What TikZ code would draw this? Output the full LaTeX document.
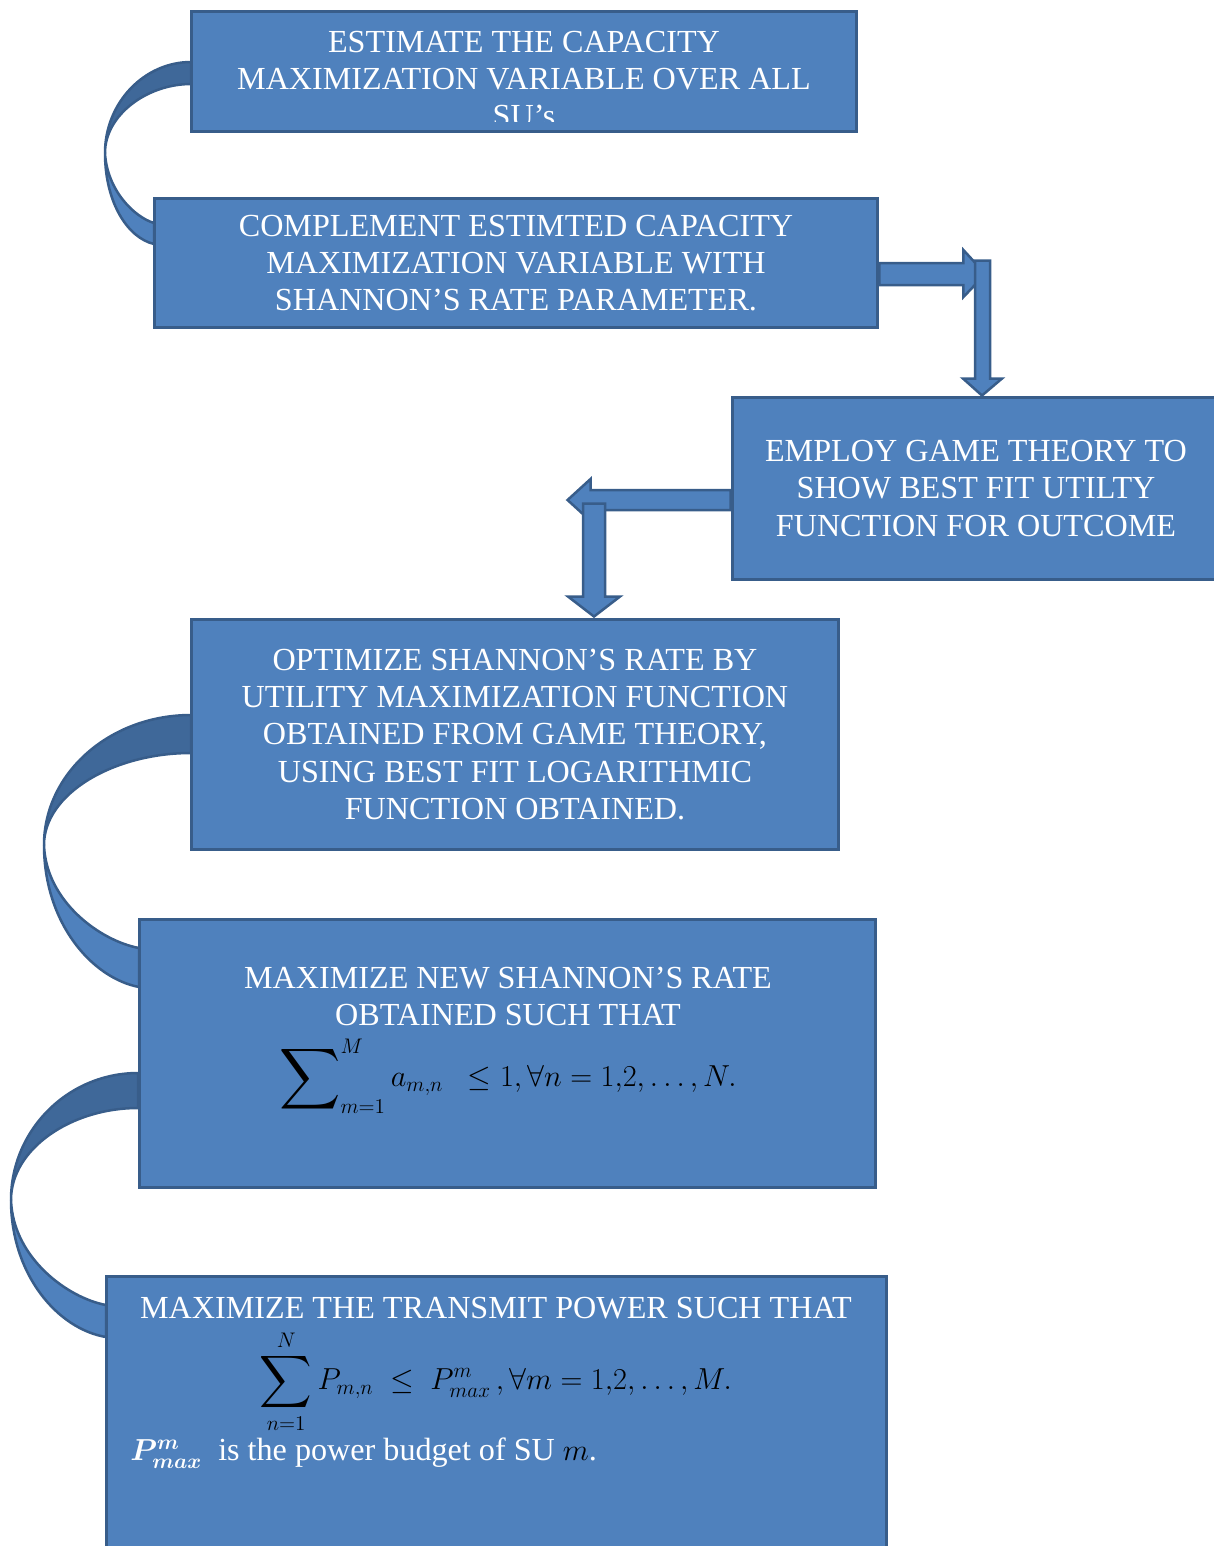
\documentclass[tikz,border=0pt]{standalone}
\usepackage{fontspec}
\setmainfont{Liberation Serif}
\usepackage{amsmath}
\usepackage{bm}
\usepackage{tikz}
\usetikzlibrary{calc}
\definecolor{boxblue}{HTML}{4F81BD}
\definecolor{edgeblue}{HTML}{385D8A}
\definecolor{backblue}{HTML}{3F6899}
\newcommand\bigsum[1]{\mathop{\vcenter{\hbox{\scalebox{#1}{$\displaystyle\sum$}}}}}

\begin{document}
\begin{tikzpicture}[x=0.02cm,y=-0.02cm,
  font=\fontsize{18.3}{21.2}\selectfont,
  box/.style={draw=edgeblue, fill=boxblue, line width=0.06cm, inner sep=0pt, align=center, text=white},
  txt/.style={inner sep=0pt, align=center, text=white},
  bandback/.style={draw=edgeblue, fill=backblue, line width=0.05cm, line join=round},
  bandfront/.style={draw=edgeblue, fill=boxblue, line width=0.05cm, line join=round},
  blockarr/.style={draw=edgeblue, fill=boxblue, line width=0.05cm, line join=miter}]
\useasboundingbox (0,0) rectangle (1214,1546);
\clip (0,0) rectangle (1214,1546);
% ----- curved bands behind the boxes
\draw[bandback] (191,62) .. controls (144,62) and (105,103) .. (105,153) .. controls (105,115) and (147,84) .. (191,84) -- cycle;
\draw[bandfront] (105,153) .. controls (105,203) and (128,238) .. (154,244) -- (154,223) .. controls (134,217) and (107,190) .. (105,153) -- cycle;
\draw[bandback] (191,715) .. controls (110,715) and (44,773) .. (44,845) .. controls (44,794) and (113,753) .. (191,753) -- cycle;
\draw[bandfront] (44,845) .. controls (44,923) and (92,978) .. (139,987) -- (139,948) .. controls (101,941) and (46,902) .. (44,845) -- cycle;
\draw[bandback] (138,1073) .. controls (68,1073) and (11,1130) .. (11,1200) .. controls (11,1149) and (71,1108) .. (138,1108) -- cycle;
\draw[bandfront] (11,1200) .. controls (11,1275) and (58,1329) .. (106,1337) -- (106,1305) .. controls (68,1298) and (13,1258) .. (11,1200) -- cycle;
% ----- boxes
\node[box, minimum width=13.32cm, minimum height=2.42cm,
  path picture={\clip ([yshift=0.2cm]path picture bounding box.south west) rectangle (path picture bounding box.north east);
    \node[txt] at ([yshift=-0.15cm]path picture bounding box.center) {ESTIMATE THE CAPACITY\\MAXIMIZATION VARIABLE OVER ALL\\SU’s};}] (b1) at (524,71.5) {};
\node[box, minimum width=14.48cm, minimum height=2.6cm] (b2) at (516,263) {COMPLEMENT ESTIMTED CAPACITY\\MAXIMIZATION VARIABLE WITH\\SHANNON’S RATE PARAMETER.};
\node[box, minimum width=9.76cm, minimum height=3.66cm] (b3) at (976,488.5) {EMPLOY GAME THEORY TO\\SHOW BEST FIT UTILTY\\FUNCTION FOR OUTCOME};
\node[box, minimum width=12.96cm, minimum height=4.62cm] (b4) at (515,734.5) {OPTIMIZE SHANNON’S RATE BY\\UTILITY MAXIMIZATION FUNCTION\\OBTAINED FROM GAME THEORY,\\USING BEST FIT LOGARITHMIC\\FUNCTION OBTAINED.};
\node[box, minimum width=14.74cm, minimum height=5.38cm] (b5) at (507.5,1053.5) {};
\node[box, minimum width=15.62cm, minimum height=5.88cm] (b6) at (496.5,1423) {};
% ----- box texts with formulas
\node[txt, anchor=north] (t5) at (508,967) {MAXIMIZE NEW SHANNON’S RATE\\OBTAINED SUCH THAT\\[6pt]
  \color{black}$\bigsum{1.4}\nolimits_{m=1}^{M} a_{m,n}\ \ \le 1, \forall n = 1{,}2, \ldots , N.$};
\node[txt, anchor=north] (t6) at (496,1297) {MAXIMIZE THE TRANSMIT POWER SUCH THAT\\[5pt]
  \color{black}$\displaystyle\bigsum{1.2}\limits_{n=1}^{N} P_{m,n}\ \le\ P^{m}_{max}\,, \forall m = 1{,}2, \ldots , M.$};
\node[txt, anchor=west] (t6b) at (130,1453) {$\bm{P^{m}_{max}}$\ \ is the power budget of SU {\color{black}$m$}.};
% ----- block arrows
\draw[blockarr] (b2.east) -- ++(84,0) -- ++(0,-13) -- ++(22,24) -- ++(-22,23) -- ++(0,-12) -- ++(-84,0) -- cycle;
\draw[blockarr] ($(b3.north)+(6,0)$) -- ++(-19,-17) -- ++(12,0) -- ++(0,-118) -- ++(15,0) -- ++(0,118) -- ++(12,0) -- cycle;
\draw[blockarr] ($(b3.west)+(0,1.5)$) -- ++(-140,0) -- ++(0,-11) -- ++(-23,21) -- ++(23,21) -- ++(0,-11) -- ++(140,0) -- cycle;
\draw[blockarr] ($(b4.north)+(79,-1)$) -- ++(-26,-20) -- ++(15,0) -- ++(0,-93) -- ++(22,0) -- ++(0,93) -- ++(15,0) -- cycle;
\end{tikzpicture}
\end{document}
